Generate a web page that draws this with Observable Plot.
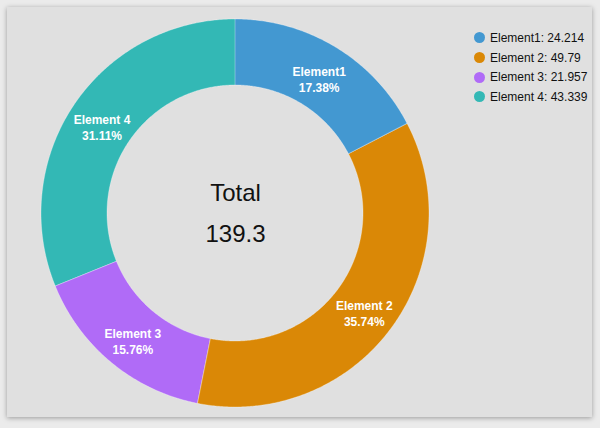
<!DOCTYPE html>
<html><head><meta charset="utf-8">
<script src="https://cdn.jsdelivr.net/npm/d3@7"></script>
<script src="https://cdn.jsdelivr.net/npm/@observablehq/plot@0.6"></script>
<style>
html,body{margin:0;padding:0;background:#ebebeb;width:600px;height:428px;overflow:hidden;font-family:Arial,"Liberation Sans",sans-serif;}
#card{position:absolute;left:7px;top:7px;width:585px;height:410px;background:#e0e0e0;box-shadow:0 1px 5px rgba(0,0,0,0.35);}
#chart{position:absolute;left:0;top:0;}
#legend{position:absolute;left:467px;top:21px;font-size:12px;color:#111;}
.row{display:flex;align-items:center;height:19.7px;white-space:nowrap;}
.sw{width:11px;height:11px;border-radius:50%;margin-right:5px;flex:none;}
</style></head><body>
<div id="card"><div id="chart"></div><div id="legend"></div></div>
<script>
const categories = ["Element1", "Element 2", "Element 3", "Element 4"];
const values = [24.214, 49.79, 21.957, 43.339];
const colors = ["#4398d1", "#da8806", "#b06bf7", "#33b8b5"];
const centerTitle = "Total";

const total = d3.sum(values);
const innerRatio = 128 / 194;
const labelRatio = 0.83;

// slice angles from the data (clockwise from 12 o'clock)
const pie = d3.pie().sort(null).startAngle(0).endAngle(2 * Math.PI)(values);

// ring-sector outlines: outer edge (x1,y1), inner edge (x2,y2)
const ring = [];
pie.forEach((p, i) => {
  const n = Math.max(2, Math.ceil((p.endAngle - p.startAngle) / (Math.PI / 360)));
  for (let k = 0; k <= n; ++k) {
    const t = p.startAngle + (p.endAngle - p.startAngle) * k / n;
    ring.push({
      key: categories[i],
      xo: Math.sin(t), yo: Math.cos(t),
      xi: innerRatio * Math.sin(t), yi: innerRatio * Math.cos(t)
    });
  }
});

const labels = pie.map((p, i) => {
  const m = (p.startAngle + p.endAngle) / 2;
  return {
    x: labelRatio * Math.sin(m),
    y: labelRatio * Math.cos(m),
    text: categories[i] + "\n" + (values[i] / total * 100).toFixed(2) + "%"
  };
});

const cx = 228, cy = 206, R = 194;

const plot = Plot.plot({
  width: 585,
  height: 410,
  margin: 0,
  style: {background: "transparent", fontFamily: "Arial, 'Liberation Sans', sans-serif"},
  x: {domain: [-1, 1], range: [cx - R, cx + R], axis: null},
  y: {domain: [-1, 1], range: [cy + R, cy - R], axis: null},
  color: {domain: categories, range: colors},
  marks: [
    Plot.area(ring, {x1: "xo", y1: "yo", x2: "xi", y2: "yi", z: "key", fill: "key",
      stroke: "#ffffff", strokeOpacity: 0.3, strokeWidth: 1}),
    Plot.text(labels, {x: "x", y: "y", text: "text", fill: "white", fontWeight: "bold",
      fontSize: 12, lineHeight: 1.35, dy: 3, ariaLabel: "slice labels"}),
    Plot.text([centerTitle], {x: () => 0, y: () => 0, text: d => d, dy: -20, fontSize: 24, fill: "#111"}),
    Plot.text([total], {x: () => 0, y: () => 0, text: d => String(+d.toFixed(3)), dy: 21, fontSize: 24, fill: "#111"})
  ]
});
plot.querySelectorAll('g[aria-label="slice labels"] text').forEach(t => {
  t.style.textShadow = "1px 1px 1.5px rgba(0,0,0,0.85)";
});
document.getElementById("chart").appendChild(plot);

const legend = d3.select("#legend");
categories.forEach((c, i) => {
  const row = legend.append("div").attr("class", "row");
  row.append("div").attr("class", "sw").style("background", colors[i]);
  row.append("span").text(c + ": " + values[i]);
});
</script>
</body></html>
